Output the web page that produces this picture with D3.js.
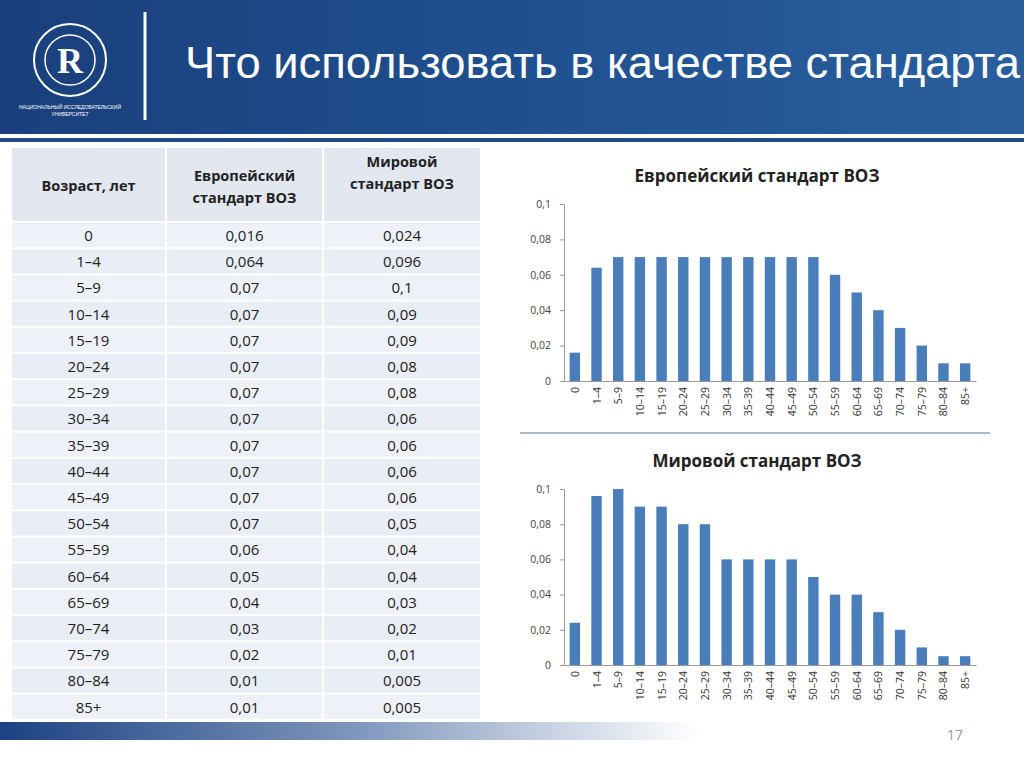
<!DOCTYPE html><html><head><meta charset="utf-8"><script src="https://cdn.jsdelivr.net/npm/d3@7"></script>
<style>body{margin:0;background:#fff}svg{display:block}</style></head><body><svg id="s" width="1024" height="767"></svg>
<script>
const categories=["0","1–4","5–9","10–14","15–19","20–24","25–29","30–34","35–39","40–44","45–49","50–54","55–59","60–64","65–69","70–74","75–79","80–84","85+"];
const europeLabels=["0,016","0,064","0,07","0,07","0,07","0,07","0,07","0,07","0,07","0,07","0,07","0,07","0,06","0,05","0,04","0,03","0,02","0,01","0,01"];
const worldLabels=["0,024","0,096","0,1","0,09","0,09","0,08","0,08","0,06","0,06","0,06","0,06","0,05","0,04","0,04","0,03","0,02","0,01","0,005","0,005"];
const europe=[0.016,0.064,0.07,0.07,0.07,0.07,0.07,0.07,0.07,0.07,0.07,0.07,0.06,0.05,0.04,0.03,0.02,0.01,0.01];
const world=[0.024,0.096,0.1,0.09,0.09,0.08,0.08,0.06,0.06,0.06,0.06,0.05,0.04,0.04,0.03,0.02,0.01,0.005,0.005];
const yTicks=[0,0.02,0.04,0.06,0.08,0.1];
const headers=["Возраст, лет",["Европейский","стандарт ВОЗ"],["Мировой","стандарт ВОЗ"]];
const title="Что использовать в качестве стандарта";

const svg=d3.select("#s");
const defs=svg.append("defs");
const hg=defs.append("linearGradient").attr("id","hg").attr("x1",0).attr("x2",1);
hg.append("stop").attr("offset",0).attr("stop-color","#1a3f7c");
hg.append("stop").attr("offset",0.5).attr("stop-color","#1f4f8f");
hg.append("stop").attr("offset",1).attr("stop-color","#2a5f9e");
const fg=defs.append("linearGradient").attr("id","fg").attr("x1",0).attr("x2",1);
fg.append("stop").attr("offset",0).attr("stop-color","#1c4283");
fg.append("stop").attr("offset",0.35).attr("stop-color","#7d95bb");
fg.append("stop").attr("offset",0.7).attr("stop-color","#ffffff");
svg.append("rect").attr("width",1024).attr("height",134).attr("fill","url(#hg)");
svg.append("rect").attr("y",134).attr("width",1024).attr("height",4).attr("fill","#ffffff");
svg.append("rect").attr("y",138).attr("width",1024).attr("height",4).attr("fill","#1f4a85");
svg.append("line").attr("x1",145).attr("x2",145).attr("y1",12).attr("y2",120).attr("stroke","#fff").attr("stroke-width",3);
svg.append("circle").attr("cx",70).attr("cy",60).attr("r",36).attr("fill","none").attr("stroke","#fff").attr("stroke-width",2);
svg.append("circle").attr("cx",70).attr("cy",60).attr("r",25).attr("fill","none").attr("stroke","#fff").attr("stroke-width",1.5);
svg.append("text").attr("x",70).attr("y",73).attr("text-anchor","middle").attr("fill","#fff").attr("font-family","Liberation Serif").attr("font-weight","bold").attr("font-size",36).text("R");
svg.append("text").attr("x",70).attr("y",109).attr("text-anchor","middle").attr("fill","#fff").attr("font-family","Liberation Sans").attr("font-size",5).text("НАЦИОНАЛЬНЫЙ ИССЛЕДОВАТЕЛЬСКИЙ");
svg.append("text").attr("x",70).attr("y",116).attr("text-anchor","middle").attr("fill","#fff").attr("font-family","Liberation Sans").attr("font-size",5).text("УНИВЕРСИТЕТ");
svg.append("text").attr("x",185).attr("y",78).attr("fill","#fff").attr("font-family","Liberation Sans").attr("font-size",44).attr("textLength",835).attr("lengthAdjust","spacingAndGlyphs").text(title);
svg.append("rect").attr("x",0).attr("y",722).attr("width",1000).attr("height",18).attr("fill","url(#fg)");
svg.append("text").attr("x",955).attr("y",740).attr("text-anchor","middle").attr("fill","#999").attr("font-family","Open Sans").attr("font-size",14).text("17");
const cols=[[12,165],[167,322],[324,480]];
const tf="Open Sans";
cols.forEach((c,i)=>{
  svg.append("rect").attr("x",c[0]).attr("y",148).attr("width",c[1]-c[0]).attr("height",73).attr("fill","#e3e7ef");
  const t=svg.append("text").attr("x",(c[0]+c[1])/2).attr("text-anchor","middle").attr("font-family",tf).attr("font-weight","bold").attr("font-size",14.5).attr("fill","#222");
  if(typeof headers[i]==="string") t.attr("y",191).text(headers[i]);
  else headers[i].forEach((h,k)=>t.append("tspan").attr("x",(c[0]+c[1])/2).attr("y",(i==1?181:167)+k*22).text(h));
});
const rh=26.2;
categories.forEach((cat,r)=>{
  const y=223+r*rh;
  const vals=[cat,europeLabels[r],worldLabels[r]];
  cols.forEach((c,i)=>{
    svg.append("rect").attr("x",c[0]).attr("y",y).attr("width",c[1]-c[0]).attr("height",rh-2).attr("fill",r%2?"#e9edf5":"#eef1f7");
    svg.append("text").attr("x",(c[0]+c[1])/2).attr("y",y+18).attr("text-anchor","middle").attr("font-family",tf).attr("font-size",15).attr("fill","#222").text(vals[i]);
  });
});
svg.append("line").attr("x1",520).attr("x2",990).attr("y1",433).attr("y2",433).attr("stroke","#8fa0bd").attr("stroke-width",1.5);
function chart(name,vals,y0,y1,ty){
  const x=d3.scaleBand().domain(categories).range([564,976]).paddingInner(0.52).paddingOuter(0.26);
  const y=d3.scaleLinear().domain([0,0.1]).range([y0,y1]);
  const g=svg.append("g");
  g.append("text").attr("x",757).attr("y",ty).attr("text-anchor","middle").attr("font-family",tf).attr("font-weight","bold").attr("font-size",17).attr("fill","#222").text(name);
  g.selectAll("rect.b").data(vals).join("rect").attr("x",(d,i)=>x(categories[i])).attr("width",x.bandwidth()).attr("y",d=>y(d)).attr("height",d=>y0-y(d)).attr("fill","#4a7ebb");
  const ya=g.append("g").attr("transform","translate(564,0)").call(d3.axisLeft(y).tickValues(yTicks).tickSize(4).tickFormat(d=>d===0?"0":String(d).replace(".",",")));
  ya.selectAll("text").attr("font-family",tf).attr("font-size",10.5).attr("fill","#444").attr("dx",-6);
  const xa=g.append("g").attr("transform",`translate(0,${y0})`).call(d3.axisBottom(x).tickSize(0));
  xa.selectAll("text").attr("font-family",tf).attr("font-size",10.5).attr("fill","#333").attr("transform","rotate(-90)").attr("text-anchor","end").attr("dx",-6).attr("dy",4).attr("y",0).attr("x",0);
  [ya,xa].forEach(a=>a.selectAll("path,line").attr("stroke","#999"));
}
chart("Европейский стандарт ВОЗ",europe,381,204,182);
chart("Мировой стандарт ВОЗ",world,665,489,467);
</script></body></html>
